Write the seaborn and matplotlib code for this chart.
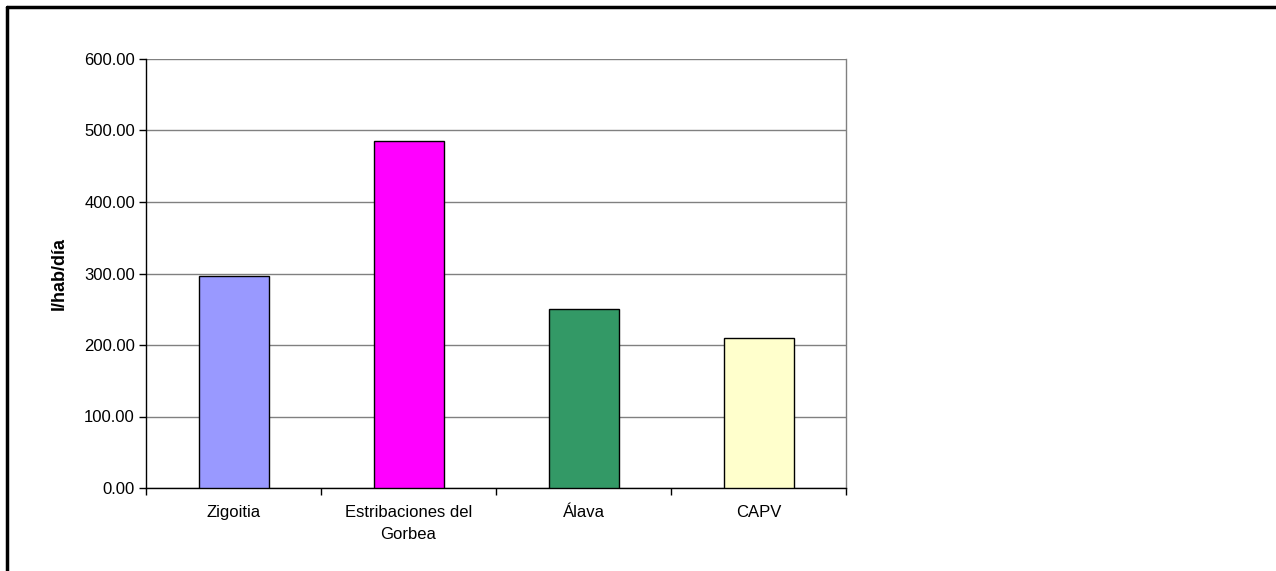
import matplotlib
matplotlib.use("Agg")
import matplotlib.pyplot as plt
import matplotlib.lines as mlines
import seaborn as sns
import pandas as pd
import numpy as np

categories = ["Zigoitia", "Estribaciones del\nGorbea", "Álava", "CAPV"]
values = [296.0, 486.0, 250.0, 210.0]
colors = ["#9999FF", "#FF00FF", "#339966", "#FFFFCC"]
yticks = [0, 100, 200, 300, 400, 500, 600]
ylabel = "l/hab/día"

sns.set_theme(style="white")
plt.rcParams['font.family'] = ['Liberation Sans', 'DejaVu Sans']
plt.rcParams['text.color'] = 'black'
plt.rcParams['xtick.color'] = 'black'
plt.rcParams['ytick.color'] = 'black'
plt.rcParams['axes.labelcolor'] = 'black'

df = pd.DataFrame({"cat": categories, "val": values})

fig = plt.figure(figsize=(12.76, 5.71), dpi=100)
ax = fig.add_axes([146/1276, 83/571, 700/1276, 429/571])

sns.barplot(data=df, x="cat", y="val", hue="cat", palette=colors, order=categories,
            hue_order=categories, legend=False, width=0.4, edgecolor="black",
            linewidth=1, saturation=1, ax=ax, zorder=3)

ax.set_ylim(0, 600)
ax.set_xlim(-0.5, len(categories) - 0.5)
ax.set_yticks(yticks)
ax.set_yticklabels([f"{v:.2f}" for v in yticks], fontsize=12)
ax.yaxis.grid(True, color="#808080", linewidth=1, zorder=0)
ax.set_axisbelow(True)

ax.set_xticks(range(len(categories)))
ax.set_xticklabels(categories, fontsize=12, linespacing=1.65)
ax.set_xticks(np.arange(-0.5, len(categories)), minor=True)
ax.tick_params(axis="x", which="major", length=0, pad=12)
ax.tick_params(axis="x", which="minor", length=5, width=1, color="black", direction="out", bottom=True)
ax.tick_params(axis="y", which="major", length=5, width=1, color="black", direction="out", left=True, pad=3)

ax.set_xlabel("")
ax.set_ylabel(ylabel, fontsize=13, fontweight="bold", labelpad=12)

for s in ["left", "bottom"]:
    ax.spines[s].set_color("black")
    ax.spines[s].set_linewidth(1)
ax.spines["right"].set_color("#808080")
ax.spines["right"].set_linewidth(1)
ax.spines["top"].set_visible(False)

# outer frame (top and left edges visible in reference)
fig.add_artist(mlines.Line2D([7/1276, 1.0], [1 - 7/571, 1 - 7/571], color="black", linewidth=2.5,
                             transform=fig.transFigure))
fig.add_artist(mlines.Line2D([7/1276, 7/1276], [0, 1 - 7/571], color="black", linewidth=2.5,
                             transform=fig.transFigure))

fig.savefig("out.png", dpi=100, facecolor="white")
